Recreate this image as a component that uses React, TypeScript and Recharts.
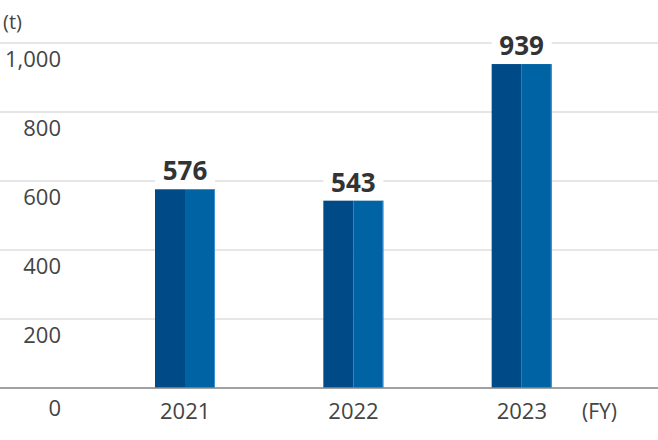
import React from "react";
import {
  BarChart,
  Bar,
  XAxis,
  YAxis,
  CartesianGrid,
  LabelList,
} from "recharts";

// 年度ごとの値 (t)
const years = ["2021", "2022", "2023"];
const amounts = [576, 543, 939];
const yTicks = [0, 200, 400, 600, 800, 1000];

const data = years.map((year, i) => ({ year, amount: amounts[i] }));

const FONT = "'Open Sans', 'Noto Sans', sans-serif";
const DARK = "#004b87";
const LIGHT = "#0063a3";
const EDGE = "#3f90d2";

// 左半分が濃い、右半分が明るい2トーンの棒
const TwoToneBar = (props: any) => {
  const { x, y, width, height } = props;
  if (!height || height <= 0) return null;
  const half = width / 2;
  return (
    <g>
      <rect x={x} y={y} width={half} height={height} fill={DARK} />
      <rect x={x + half} y={y} width={half} height={height} fill={LIGHT} />
      <rect x={x + width - 1} y={y} width={1} height={height} fill={EDGE} />
    </g>
  );
};

const ValueLabel = (props: any) => {
  const { x, y, width, value } = props;
  const base = y - 9;
  return (
    <g>
      <rect x={x} y={base - 22} width={width} height={24} fill="#fff" />
      <text
        x={x + width / 2}
        y={base}
        textAnchor="middle"
        fontFamily={FONT}
        fontWeight={700}
        fontSize={26}
        fill="#333"
      >
        {value}
      </text>
    </g>
  );
};

const YTick = (props: any) => {
  const { y, payload } = props;
  const off = payload.value === 0 ? 28 : 24;
  return (
    <text
      x={61}
      y={y + off}
      textAnchor="end"
      fontFamily={FONT}
      fontSize={22}
      fill="#444"
    >
      {Number(payload.value).toLocaleString("en-US")}
    </text>
  );
};

const XTick = (props: any) => {
  const { x, payload } = props;
  return (
    <text
      x={x}
      y={419}
      textAnchor="middle"
      fontFamily={FONT}
      fontSize={22}
      fill="#444"
    >
      {payload.value}
    </text>
  );
};

export default function App() {
  return (
    <div style={{ position: "absolute", left: 0, top: 0, width: 658, height: 440 }}>
      <BarChart
        width={658}
        height={440}
        data={data}
        margin={{ top: 43, right: 0, bottom: 0, left: 0 }}
      >
        <CartesianGrid
          horizontal
          vertical={false}
          stroke="#dedede"
          strokeWidth={1.5}
        />
        <XAxis
          dataKey="year"
          padding={{ left: 101, right: 52 }}
          height={52}
          axisLine={{ stroke: "#8a8a8a", strokeWidth: 1.5 }}
          tickLine={false}
          tick={<XTick />}
          interval={0}
        />
        <YAxis
          mirror
          width={61}
          domain={[0, 1000]}
          ticks={yTicks}
          axisLine={false}
          tickLine={false}
          tick={<YTick />}
          interval={0}
        />
        <Bar
          dataKey="amount"
          barSize={60}
          shape={<TwoToneBar />}
          isAnimationActive={false}
        >
          <LabelList dataKey="amount" content={<ValueLabel />} />
        </Bar>
      </BarChart>
      <svg
        width={658}
        height={440}
        style={{ position: "absolute", left: 0, top: 0, pointerEvents: "none" }}
      >
        <text x={3} y={29} fontFamily={FONT} fontSize={20} fill="#444">
          (t)
        </text>
        <text x={582} y={419} fontFamily={FONT} fontSize={21} fill="#444">
          (FY)
        </text>
      </svg>
    </div>
  );
}
